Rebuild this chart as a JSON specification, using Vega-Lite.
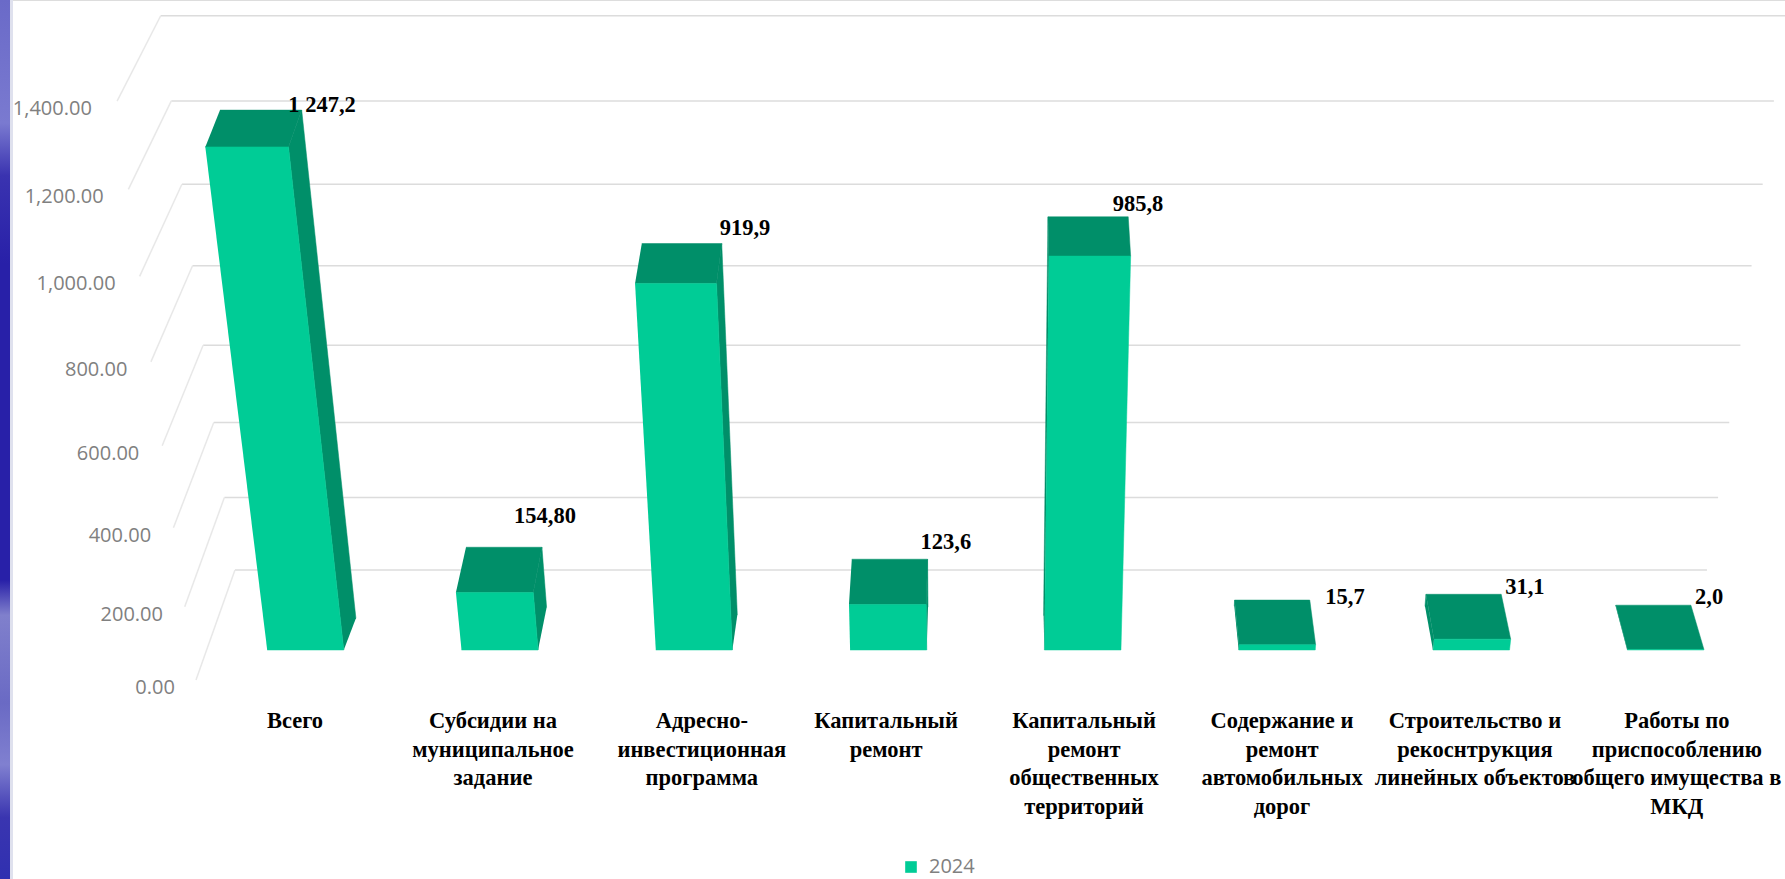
{
"$schema":"https://vega.github.io/schema/vega-lite/v6.json",
"width":1785,"height":879,"padding":0,"autosize":{"type":"none"},
"background":"#ffffff",
"datasets":{
"bars":[
{"category":"Всего","text":"Всего","series":"2024","idx":0,"value":1247.2,"valueLabel":"1 247,2","textPos":-0.054,"labelPos":0.085,"labelAt":1347},
{"category":"Субсидии на муниципальное задание","text":"Субсидии на\nмуниципальное\nзадание","series":"2024","idx":1,"value":154.8,"valueLabel":"154,80","textPos":0.965,"labelPos":1.233,"labelAt":350},
{"category":"Адресно-инвестиционная программа","text":"Адресно-\nинвестиционная\nпрограмма","series":"2024","idx":2,"value":919.9,"valueLabel":"919,9","textPos":2.04,"labelPos":2.262,"labelAt":1054},
{"category":"Капитальный ремонт","text":"Капитальный\nремонт","series":"2024","idx":3,"value":123.6,"valueLabel":"123,6","textPos":2.988,"labelPos":3.296,"labelAt":284},
{"category":"Капитальный ремонт общественных территорий","text":"Капитальный\nремонт\nобщественных\nтерриторий","series":"2024","idx":4,"value":985.8,"valueLabel":"985,8","textPos":4.007,"labelPos":4.285,"labelAt":1111},
{"category":"Содержание и ремонт автомобильных дорог","text":"Содержание и\nремонт\nавтомобильных\nдорог","series":"2024","idx":5,"value":15.7,"valueLabel":"15,7","textPos":5.026,"labelPos":5.35,"labelAt":143},
{"category":"Строительство и рекоснтрукция линейных объектов","text":"Строительство и\nрекоснтрукция\nлинейных объектов","series":"2024","idx":6,"value":31.1,"valueLabel":"31,1","textPos":6.019,"labelPos":6.276,"labelAt":169},
{"category":"Работы по приспособлению общего имущества в МКД","text":"Работы по\nприспособлению\nобщего имущества в\nМКД","series":"2024","idx":7,"value":2.0,"valueLabel":"2,0","textPos":7.058,"labelPos":7.224,"labelAt":143}
],
"ticks":[{"tick":0},{"tick":200},{"tick":400},{"tick":600},{"tick":800},{"tick":1000},{"tick":1200},{"tick":1400}],
"strip":[{"a":-1.5723,"b":-1.5208,"lo":1595.6,"hi":-585}],
"band":[{"a":-1.5208,"b":-1.5054,"lo":1595.6,"hi":-585}]
},
"encoding":{
"x":{"field":"X","type":"quantitative","axis":null,"scale":{"domain":[-1.5723,7.6147],"range":[0,1785],"nice":false,"zero":false}},
"y":{"field":"Y","type":"quantitative","axis":null,"scale":{"type":"pow","exponent":1.04,"domain":[0,1595.6],"range":[650,0],"nice":false,"zero":false}}
},
"layer":[
{"data":{"name":"strip"},"transform":[{"calculate":"datum.a","as":"X"},{"calculate":"datum.b","as":"X2"},{"calculate":"datum.lo","as":"Y"},{"calculate":"datum.hi","as":"Y2"}],
"mark":{"type":"rect","fill":{"x1":0,"y1":0,"x2":0,"y2":1,"gradient":"linear","stops":[{"offset":0,"color":"#6a6ac8"},{"offset":0.14,"color":"#7a7ad0"},{"offset":0.2,"color":"#3a33b0"},{"offset":0.3,"color":"#2820a8"},{"offset":0.66,"color":"#2820a8"},{"offset":0.7,"color":"#8080cc"},{"offset":0.8,"color":"#6a6ac4"},{"offset":0.87,"color":"#8080d0"},{"offset":0.93,"color":"#3a35b0"},{"offset":1,"color":"#3030b0"}]}},
"encoding":{"x2":{"field":"X2"},"y2":{"field":"Y2"}}},
{"data":{"name":"band"},"transform":[{"calculate":"datum.a","as":"X"},{"calculate":"datum.b","as":"X2"},{"calculate":"datum.lo","as":"Y"},{"calculate":"datum.hi","as":"Y2"}],
"mark":{"type":"rect","fill":"#dfe1ee"},
"encoding":{"x2":{"field":"X2"},"y2":{"field":"Y2"}}},
{"data":{"name":"ticks"},"transform":[
{"calculate":"-0.363-0.000273*datum.tick","as":"X"},
{"calculate":"7.213+0.000287*datum.tick","as":"X2"},
{"calculate":"213+datum.tick*(0.905+0.00004*datum.tick)","as":"Y"}],
"mark":{"type":"rule","stroke":"#dcdcdc","strokeWidth":1.5},
"encoding":{"x2":{"field":"X2"}}},
{"data":{"name":"ticks"},"transform":[
{"calculate":"-0.5636-0.00029*datum.tick","as":"X"},
{"calculate":"-0.363-0.000273*datum.tick","as":"X2"},
{"calculate":"-83+datum.tick*(1+0.00002*datum.tick)","as":"Y"},
{"calculate":"213+datum.tick*(0.905+0.00004*datum.tick)","as":"Y2"}],
"mark":{"type":"rule","stroke":"#e8e8e8","strokeWidth":1.5},
"encoding":{"x2":{"field":"X2"},"y2":{"field":"Y2"}}},
{"data":{"name":"ticks"},"transform":[
{"calculate":"-0.6725-0.000305*datum.tick","as":"X"},
{"calculate":"-83+datum.tick*(1+0.00002*datum.tick)","as":"Y"}],
"mark":{"type":"text","align":"right","baseline":"middle","dy":8,"font":"Open Sans","fontSize":20,"fill":"#808080"},
"encoding":{"text":{"field":"tick","type":"quantitative","format":",.2f"}}},
{"data":{"name":"bars"},"transform":[
{"calculate":"[0,1,2,3]","as":"k"},{"flatten":["k"]},
{"calculate":"datum.idx<3.5?1:-1","as":"s"},
{"calculate":"[0,1,1,0][datum.k]","as":"t"},
{"calculate":"[0,0,1,1][datum.k]","as":"d"},
{"calculate":"datum.idx+datum.s*0.197","as":"b"},
{"calculate":"datum.value*datum.t","as":"h"},
{"calculate":"3.47+(datum.b-3.47)*(1+datum.h/14358)","as":"xt"},
{"calculate":"3.574+(datum.xt-3.574)*(1-0.0185*datum.d)","as":"X"},
{"calculate":"datum.h+datum.d*(120-0.026*datum.value)","as":"Y"}],
"mark":{"type":"line","fill":"#008f69","stroke":"#008f69","strokeWidth":0.5},
"encoding":{"detail":{"field":"category"},"order":{"field":"k"}}},
{"data":{"name":"bars"},"transform":[
{"calculate":"[0,1,2,3]","as":"k"},{"flatten":["k"]},
{"calculate":"[-1,1,1,-1][datum.k]","as":"s"},
{"calculate":"1","as":"t"},
{"calculate":"[0,0,1,1][datum.k]","as":"d"},
{"calculate":"datum.idx+datum.s*0.197","as":"b"},
{"calculate":"datum.value*datum.t","as":"h"},
{"calculate":"3.47+(datum.b-3.47)*(1+datum.h/14358)","as":"xt"},
{"calculate":"3.574+(datum.xt-3.574)*(1-0.0185*datum.d)","as":"X"},
{"calculate":"datum.h+datum.d*(120-0.026*datum.value)","as":"Y"}],
"mark":{"type":"line","fill":"#008f69","stroke":"#008f69","strokeWidth":0.5},
"encoding":{"detail":{"field":"category"},"order":{"field":"k"}}},
{"data":{"name":"bars"},"transform":[
{"calculate":"[0,1,2,3]","as":"k"},{"flatten":["k"]},
{"calculate":"[-1,1,1,-1][datum.k]","as":"s"},
{"calculate":"[0,0,1,1][datum.k]","as":"t"},
{"calculate":"datum.idx+datum.s*0.197","as":"b"},
{"calculate":"datum.value*datum.t","as":"h"},
{"calculate":"3.47+(datum.b-3.47)*(1+datum.h/14358)","as":"X"},
{"calculate":"datum.h","as":"Y"}],
"mark":{"type":"line","fill":"#00cc96","strokeWidth":0.5},
"encoding":{"detail":{"field":"category"},"order":{"field":"k"},
"color":{"field":"series","type":"nominal","scale":{"domain":["2024"],"range":["#00cc96"]},
"legend":{"orient":"none","legendX":901,"legendY":857,"title":null,"symbolType":"square","symbolSize":135,"symbolFillColor":"#00cc96","symbolStrokeWidth":0,"labelFont":"Open Sans","labelFontSize":20,"labelColor":"#808080","labelOffset":8}}}},
{"data":{"name":"bars"},"transform":[{"calculate":"datum.labelPos","as":"X"},{"calculate":"datum.labelAt","as":"Y"}],
"mark":{"type":"text","align":"center","baseline":"middle","font":"Liberation Serif","fontWeight":"bold","fontSize":22.5,"fill":"#000000"},
"encoding":{"text":{"field":"valueLabel","type":"nominal"}}},
{"data":{"name":"bars"},"transform":[{"calculate":"datum.textPos","as":"X"},{"calculate":"-162","as":"Y"}],
"mark":{"type":"text","align":"center","baseline":"top","lineBreak":"\n","lineHeight":28.5,"font":"Liberation Serif","fontWeight":"bold","fontSize":22.5,"fill":"#000000"},
"encoding":{"text":{"field":"text","type":"nominal"}}}
]
}
